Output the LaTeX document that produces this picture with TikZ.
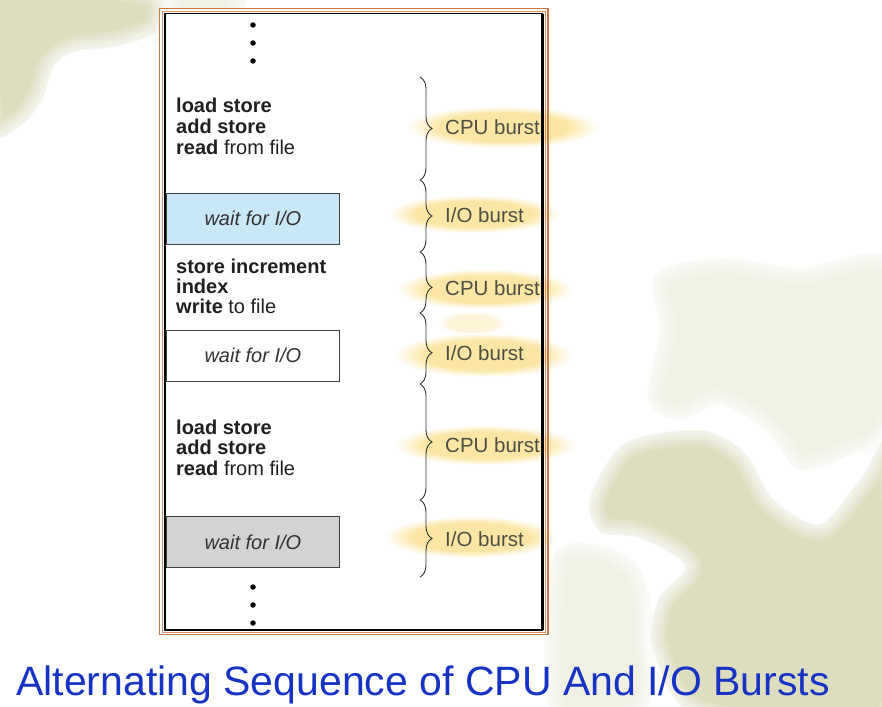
\documentclass[tikz,border=0pt]{standalone}
\usepackage{fontspec}
\setmainfont{Liberation Sans}
\usetikzlibrary{decorations.pathreplacing}

\definecolor{sage}{HTML}{DDDEBF}
\definecolor{sagelight}{HTML}{F0F0E4}
\definecolor{framebrown}{HTML}{C8784A}
\definecolor{hlyellow}{HTML}{FCE6A6}
\definecolor{waitblue}{HTML}{C8E8F8}
\definecolor{waitgray}{HTML}{D3D3D3}
\definecolor{labelgray}{HTML}{4E4E44}
\definecolor{titleblue}{HTML}{1634C4}
\definecolor{codeink}{HTML}{202020}

% flat-centred radial fade used for the marker strokes
\pgfdeclareradialshading{markerfade}{\pgfpoint{0bp}{0bp}}{%
  color(0bp)=(hlyellow); color(17bp)=(hlyellow);
  color(25bp)=(white); color(50bp)=(white)}

\newcommand{\markerblob}[4]{%
  \shade[shading=markerfade] (#1,#2) ellipse ({#3} and {#4});
}

\tikzset{
  % white strokes on the outline make the edge of a backdrop patch fade out
  feather/.style={
    postaction={draw=white, draw opacity=0.15, line width=32pt, line join=round},
    postaction={draw=white, draw opacity=0.17, line width=26pt, line join=round},
    postaction={draw=white, draw opacity=0.19, line width=20pt, line join=round},
    postaction={draw=white, draw opacity=0.21, line width=14pt, line join=round},
    postaction={draw=white, draw opacity=0.23, line width=8pt, line join=round},
    postaction={draw=white, draw opacity=0.25, line width=3pt, line join=round}},
  codeline/.style={anchor=base west, inner sep=0pt, text=codeink,
    font=\fontsize{20}{21}\selectfont},
  waitbox/.style={draw=black!75, line width=0.8pt, minimum width=173pt,
    minimum height=51pt, inner sep=0pt, anchor=north west,
    font=\fontsize{20}{21}\selectfont\itshape, text=black!80},
  burstlabel/.style={anchor=base west, inner sep=0pt, text=labelgray,
    font=\fontsize{20.5}{22}\selectfont},
  burstbrace/.style={decorate, decoration={brace, amplitude=12pt},
    draw=black!80, line width=0.9pt},
  contdot/.style={circle, fill=black, inner sep=0pt, minimum size=5.5pt},
}

\begin{document}
\begin{tikzpicture}[x=1pt, y=-1pt]
\useasboundingbox (0,0) rectangle (882,706);
\fill[white] (0,0) rectangle (882,706);

% ---- leafy backdrop ----
\fill[sagelight, feather] plot[smooth cycle] coordinates
  {(140,-10) (245,-10) (225,30) (175,46) (140,32)};
\fill[sage, feather] plot[smooth cycle] coordinates
  {(-10,-10) (150,-10) (158,30) (118,46) (74,52) (54,66) (42,100) (20,126) (-10,130)};

\fill[sagelight, feather] plot[smooth cycle] coordinates
  {(655,275) (720,258) (800,268) (892,262) (892,430) (850,455)
   (800,470) (765,430) (720,405) (680,420) (648,400) (660,330)};
\fill[sagelight, feather] plot[smooth cycle] coordinates
  {(552,560) (600,545) (640,570) (655,640) (640,716) (552,716)};

\fill[sage, feather] plot[smooth cycle] coordinates
  {(590,498) (625,443) (700,430) (744,452) (774,500) (820,524)
   (860,480) (892,448) (892,716) (700,716) (653,650) (658,600)
   (685,566) (640,538) (600,532)};

% ---- framed panel ----
\fill[white] (160,9) rectangle (548,634);

% marker strokes behind the burst labels
\markerblob{503}{127}{96}{21}
\markerblob{474}{214}{86}{19}
\markerblob{485}{289}{88}{20}
\shade[shading=markerfade, opacity=0.45] (472,323) ellipse (34 and 12);
\markerblob{484}{355}{89}{22}
\markerblob{485}{445}{90}{20}
\markerblob{471}{537}{86}{21}

\draw[framebrown, line width=1.5pt] (159.5,8.5) rectangle (548,634.5);
\draw[framebrown!80, line width=1pt] (162.2,11.2) rectangle (545.5,632);
\draw[black, line width=1.2pt] (165,13.8) rectangle (542.5,630);
\draw[black, line width=3pt] (542.5,13.8) -- (542.5,630);

% ---- continuation dots ----
\node[contdot] (dt1) at (253,25) {};
\node[contdot] (dt2) at (253,43) {};
\node[contdot] (dt3) at (253,61) {};
\node[contdot] (db1) at (253,587) {};
\node[contdot] (db2) at (253,605) {};
\node[contdot] (db3) at (253,623) {};

% ---- instruction blocks ----
\node[codeline] (c1a) at (176,113) {\textbf{load store}};
\node[codeline] (c1b) at (176,133.5) {\textbf{add store}};
\node[codeline] (c1c) at (176,154) {\textbf{read} from file};

\node[waitbox, fill=waitblue] (w1) at (166,192.5) {wait for I/O};

\node[codeline] (c2a) at (176,273) {\textbf{store increment}};
\node[codeline] (c2b) at (176,293) {\textbf{index}};
\node[codeline] (c2c) at (176,313) {\textbf{write} to file};

\node[waitbox, fill=white] (w2) at (166,329.5) {wait for I/O};

\node[codeline] (c3a) at (176,434) {\textbf{load store}};
\node[codeline] (c3b) at (176,454.5) {\textbf{add store}};
\node[codeline] (c3c) at (176,475) {\textbf{read} from file};

\node[waitbox, fill=waitgray] (w3) at (166,516) {wait for I/O};

% ---- braces ----
\coordinate (b0) at (420,77);
\coordinate (b1) at (420,180);
\coordinate (b2) at (420,252);
\coordinate (b3) at (420,313);
\coordinate (b4) at (420,384);
\coordinate (b5) at (420,500);
\coordinate (b6) at (420,577);
\draw[burstbrace] (b0) -- (b1);
\draw[burstbrace] (b1) -- (b2);
\draw[burstbrace, decoration={aspect=0.58}] (b2) -- (b3);
\draw[burstbrace, decoration={aspect=0.56}] (b3) -- (b4);
\draw[burstbrace] (b4) -- (b5);
\draw[burstbrace] (b5) -- (b6);

% ---- burst labels ----
\node[burstlabel] (l1) at (445,134) {CPU burst};
\node[burstlabel] (l2) at (445,222.5) {I/O burst};
\node[burstlabel] (l3) at (445,295) {CPU burst};
\node[burstlabel] (l4) at (445,360) {I/O burst};
\node[burstlabel] (l5) at (445,452) {CPU burst};
\node[burstlabel] (l6) at (445,546) {I/O burst};

% ---- caption ----
\node[anchor=base west, inner sep=0pt, text=titleblue,
      font=\fontsize{41}{44}\selectfont] (title) at (16,695)
  {Alternating Sequence of CPU And I/O Bursts};
\end{tikzpicture}
\end{document}
